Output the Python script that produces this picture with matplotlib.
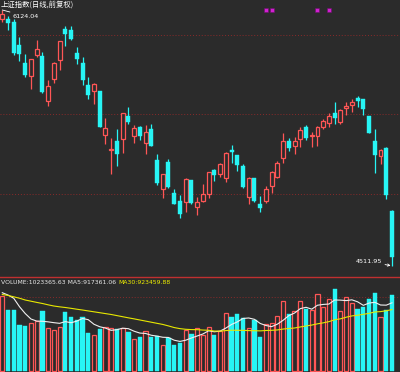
import matplotlib.pyplot as plt
import pandas as pd

# 上证指数 日线 (前复权)
opens = [6067, 6067, 6048, 5904, 5790, 5708, 5841, 5834, 5553, 5689,
         5809, 6004, 5998, 5855, 5792, 5652, 5616, 5616, 5337, 5244,
         5301, 5309, 5456, 5332, 5387, 5288, 5372, 5177, 4996, 5164,
         4973, 4921, 4916, 5053, 4881, 4923, 4963, 5114, 5091, 5066,
         5240, 5210, 5141, 4948, 5066, 4900, 4921, 5017, 5072, 5192,
         5297, 5269, 5309, 5387, 5330, 5330, 5385, 5414, 5475, 5416,
         5507, 5526, 5568, 5563, 5456, 5299, 5202, 5257, 4860]
closes = [6099, 6044, 5851, 5847, 5714, 5813, 5876, 5609, 5645, 5790,
          5927, 5973, 5939, 5813, 5683, 5588, 5656, 5389, 5381, 5247,
          5219, 5473, 5420, 5379, 5328, 5355, 5269, 5034, 5091, 5009,
          4902, 4841, 5059, 4910, 4916, 4965, 5102, 5084, 5152, 5223,
          5231, 5147, 5009, 5064, 4923, 4875, 4994, 5103, 5160, 5297,
          5255, 5297, 5370, 5319, 5336, 5385, 5425, 5456, 5442, 5496,
          5517, 5544, 5553, 5498, 5351, 5210, 5240, 4959, 4566]
highs = [6124.04, 6088, 6065, 5956, 5845, 5813, 5933, 5859, 5683, 5798,
         5931, 6025, 6025, 5891, 5828, 5702, 5662, 5616, 5445, 5316,
         5374, 5473, 5513, 5398, 5395, 5398, 5408, 5217, 5091, 5187,
         4998, 4957, 5066, 5053, 4948, 5026, 5105, 5122, 5158, 5229,
         5273, 5210, 5154, 5070, 5066, 4954, 5013, 5108, 5171, 5347,
         5318, 5326, 5389, 5400, 5355, 5395, 5439, 5475, 5544, 5502,
         5544, 5561, 5580, 5563, 5458, 5374, 5248, 5263, 4864]
lows = [6050, 5998, 5839, 5803, 5700, 5626, 5826, 5599, 5519, 5666,
        5746, 5899, 5935, 5782, 5653, 5563, 5530, 5387, 5278, 5089,
        5143, 5225, 5404, 5284, 5303, 5219, 5265, 5020, 4942, 5004,
        4902, 4816, 4851, 4902, 4832, 4916, 4941, 5049, 5074, 5042,
        5162, 5112, 5004, 4904, 4916, 4851, 4908, 4971, 5068, 5160,
        5234, 5219, 5263, 5305, 5263, 5269, 5374, 5389, 5406, 5408,
        5462, 5481, 5511, 5462, 5351, 5095, 5152, 4933, 4511.95]

# 成交量 (千)
volume_k = [1010, 817, 817, 619, 606, 642, 677, 804, 579, 552,
            597, 794, 727, 687, 731, 516, 485, 561, 597, 579,
            561, 583, 529, 427, 454, 535, 462, 471, 350, 440,
            350, 381, 552, 498, 575, 485, 597, 485, 543, 777,
            731, 768, 718, 575, 687, 454, 629, 642, 741, 947,
            768, 804, 939, 831, 821, 1033, 858, 965, 1104, 812,
            1000, 912, 831, 866, 965, 1050, 731, 821, 1023.36563]
# 均线开头几根 (需要图外的历史数据, 直接从图上读)
ma5_head_k = [1054, 1023, 979, 866]
ma30_head_k = [1030, 1017, 999, 980, 956, 940, 924, 909, 891, 875,
               864, 855, 844, 832, 821, 809, 797, 785, 773, 761,
               746, 731, 716, 702, 687, 672, 657, 642, 627]
marks = [46, 47, 55, 57]

bg = '#2b2b2b'
red = '#ff5656'
cyan = '#27f5f5'
grid_red = '#8a2a2a'

W, H = 400, 372
fig = plt.figure(figsize=(W / 100, H / 100), dpi=100, facecolor=bg)
ax = fig.add_axes([0, 1 - 276 / H, 1, 276 / H], facecolor=bg)
axv = fig.add_axes([0, 0, 1, 95 / H], facecolor=bg)

n = len(opens)
x = list(range(n))
up = [c >= o for o, c in zip(opens, closes)]

# K线
for i in x:
    col = red if up[i] else cyan
    ax.vlines(i, lows[i], highs[i], color=col, lw=0.9, zorder=1)
    lo, hi = min(opens[i], closes[i]), max(opens[i], closes[i])
    h = max(hi - lo, 4)
    if up[i]:
        ax.bar(i, h, bottom=lo, width=0.68, facecolor=bg, edgecolor=red, lw=0.9, zorder=2)
    else:
        ax.bar(i, h, bottom=lo, width=0.7, facecolor=cyan, edgecolor=cyan, lw=0.3, zorder=2)

for g in [5968, 5469, 4965]:
    ax.axhline(g, color=grid_red, lw=0.7, ls=(0, (1, 2)), zorder=0)

ax.plot(marks, [6124] * len(marks), 's', color='#d020d0', ms=2.2, mec='#6a106a', mew=0.4)

ax.set_xlim(-0.4, 69.4)
ax.set_ylim(4448, 6187)
ax.axis('off')

ax.annotate('6124.04', xy=(0, highs[0]), xytext=(7.5, -4.5), textcoords='offset points',
            color='white', fontsize=4.6, va='center', ha='left',
            arrowprops=dict(arrowstyle='-', color='white', lw=0.6, shrinkA=0, shrinkB=0))
ax.annotate('4511.95', xy=(n - 1, lows[-1]), xytext=(-7, 3), textcoords='offset points',
            color='white', fontsize=4.6, va='center', ha='right',
            arrowprops=dict(arrowstyle='->', color='white', lw=0.6, shrinkA=0, shrinkB=1,
                            mutation_scale=4))

fig.text(1 / W, 1 - 1 / H, '上证指数(日线,前复权)', color='white', fontsize=5.3, va='top', ha='left',
         family=['Noto Sans CJK SC', 'DejaVu Sans'])

# 成交量
vol = pd.Series(volume_k) * 1000
ma5 = vol.rolling(5).mean()
ma5.iloc[:4] = [v * 1000 for v in ma5_head_k]
ma30 = vol.rolling(30).mean()
ma30.iloc[:29] = [v * 1000 for v in ma30_head_k]

for i in x:
    if up[i]:
        axv.bar(i, vol[i], width=0.72, facecolor=bg, edgecolor=red, lw=0.9)
    else:
        axv.bar(i, vol[i], width=0.75, facecolor=cyan, edgecolor=cyan, lw=0.3)
axv.plot(x, ma5, color='#f0f0f0', lw=0.8)
axv.plot(x, ma30, color='#e8e800', lw=0.8)

axv.axhline(996000, color=grid_red, lw=0.7, ls=(0, (1, 2)), zorder=0)
axv.set_xlim(-0.4, 69.4)
axv.set_ylim(-13465, 1265710)
axv.set_xticks([])
axv.set_yticks([])
for s in ['left', 'right', 'bottom']:
    axv.spines[s].set_visible(False)
axv.spines['top'].set_color('#c03030')
axv.spines['top'].set_linewidth(1)

t = axv.text(1 / W, 1 - 3 / 95, 'VOLUME:%.2f MA5:%.2f ' % (1023365.63, 917361.06),
             transform=axv.transAxes, color='#e8e8e8', fontsize=4.4, va='top', ha='left')
axv.annotate('MA30:%.2f' % 923459.88, xycoords=t, xy=(1, 1), va='top', ha='left',
             color='#f0f000', fontsize=4.4)

fig.savefig('out.png', dpi=100, facecolor=bg)
